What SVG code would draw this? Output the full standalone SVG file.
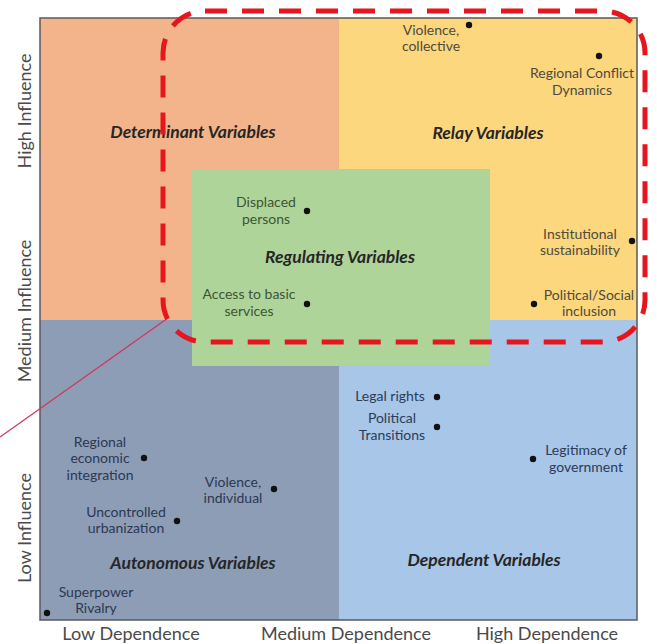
<svg xmlns="http://www.w3.org/2000/svg" width="657" height="644" viewBox="0 0 657 644">
<style>
text{font-family:Lato,"Noto Sans","Liberation Sans",sans-serif}
.t{font-size:17.5px;font-weight:bold;font-style:italic;text-anchor:middle;fill:#262626}
.l{font-size:14px;text-anchor:middle}
.ly{fill:#4e4a3c}
.lg{fill:#3c5434}
.ls{fill:#2b3852}
.lb{fill:#2b3b58}
.ax{font-size:18px;fill:#4a4a4a;text-anchor:middle}
.d{fill:#111}
</style>
<rect width="657" height="644" fill="#ffffff"/>
<g id="quadrant-determinant">
<rect x="40" y="18" width="299" height="302" fill="#F4B48B"/>
<text class="t" x="193" y="138">Determinant Variables</text>
</g>
<g id="quadrant-relay">
<rect x="339" y="18" width="298" height="302" fill="#FCD77D"/>
<text class="t" x="488" y="139">Relay Variables</text>
</g>
<g id="quadrant-autonomous">
<rect x="40" y="320" width="299" height="300" fill="#8D9DB6"/>
<text class="t" x="193" y="569">Autonomous Variables</text>
</g>
<g id="quadrant-dependent">
<rect x="339" y="320" width="298" height="300" fill="#A7C6E8"/>
<text class="t" x="484" y="566">Dependent Variables</text>
</g>
<g id="quadrant-regulating">
<rect x="192" y="169" width="298" height="197" fill="#AFD49A"/>
<text class="t" x="340" y="263">Regulating Variables</text>
</g>
<rect id="frame" x="40" y="18" width="597" height="602" fill="none" stroke="#5a5a5a" stroke-width="1.5"/>
<g id="pt-violence-collective"><circle class="d" cx="469" cy="25" r="3.2"/><text class="l ly" x="431" y="35">Violence,</text><text class="l ly" x="431" y="51">collective</text></g>
<g id="pt-regional-conflict"><circle class="d" cx="599" cy="56" r="3.2"/><text class="l ly" x="582" y="78">Regional Conflict</text><text class="l ly" x="582" y="95">Dynamics</text></g>
<g id="pt-institutional"><circle class="d" cx="632" cy="241" r="3.2"/><text class="l ly" x="580" y="239">Institutional</text><text class="l ly" x="580" y="255">sustainability</text></g>
<g id="pt-political-social"><circle class="d" cx="534" cy="304" r="3.2"/><text class="l ly" x="589" y="300">Political/Social</text><text class="l ly" x="589" y="316">inclusion</text></g>
<g id="pt-displaced"><circle class="d" cx="307" cy="211" r="3.2"/><text class="l lg" x="266" y="207">Displaced</text><text class="l lg" x="266" y="224">persons</text></g>
<g id="pt-access"><circle class="d" cx="307" cy="304" r="3.2"/><text class="l lg" x="249" y="299">Access to basic</text><text class="l lg" x="249" y="316">services</text></g>
<g id="pt-legal-rights"><circle class="d" cx="437" cy="397" r="3.2"/><text class="l lb" x="390" y="401">Legal rights</text></g>
<g id="pt-political-transitions"><circle class="d" cx="437" cy="427" r="3.2"/><text class="l lb" x="392" y="423">Political</text><text class="l lb" x="392" y="440">Transitions</text></g>
<g id="pt-legitimacy"><circle class="d" cx="533" cy="459" r="3.2"/><text class="l lb" x="586" y="455">Legitimacy of</text><text class="l lb" x="586" y="472">government</text></g>
<g id="pt-regional-economic"><circle class="d" cx="144" cy="458" r="3.2"/><text class="l ls" x="100" y="447">Regional</text><text class="l ls" x="100" y="463">economic</text><text class="l ls" x="100" y="480">integration</text></g>
<g id="pt-violence-individual"><circle class="d" cx="274" cy="489" r="3.2"/><text class="l ls" x="233" y="487">Violence,</text><text class="l ls" x="233" y="503">individual</text></g>
<g id="pt-urbanization"><circle class="d" cx="177" cy="521" r="3.2"/><text class="l ls" x="126" y="517">Uncontrolled</text><text class="l ls" x="126" y="533">urbanization</text></g>
<g id="pt-superpower"><circle class="d" cx="47" cy="613" r="3.2"/><text class="l ls" x="96" y="597">Superpower</text><text class="l ls" x="96" y="613">Rivalry</text></g>
<g id="connectors">
<line x1="0" y1="437" x2="168" y2="318" stroke="#D3365A" stroke-width="1.3"/>
<rect x="163" y="11" width="482" height="331" rx="42" ry="42" fill="none" stroke="#E5161D" stroke-width="5" stroke-dasharray="22 15"/>
</g>
<g id="axis-labels">
<text class="ax" transform="translate(31,111) rotate(-90)">High Influence</text>
<text class="ax" transform="translate(31,311) rotate(-90)">Medium Influence</text>
<text class="ax" transform="translate(31,528) rotate(-90)">Low Influence</text>
<text class="ax" x="131" y="640">Low Dependence</text>
<text class="ax" x="346" y="640">Medium Dependence</text>
<text class="ax" x="547" y="640">High Dependence</text>
</g>
</svg>
